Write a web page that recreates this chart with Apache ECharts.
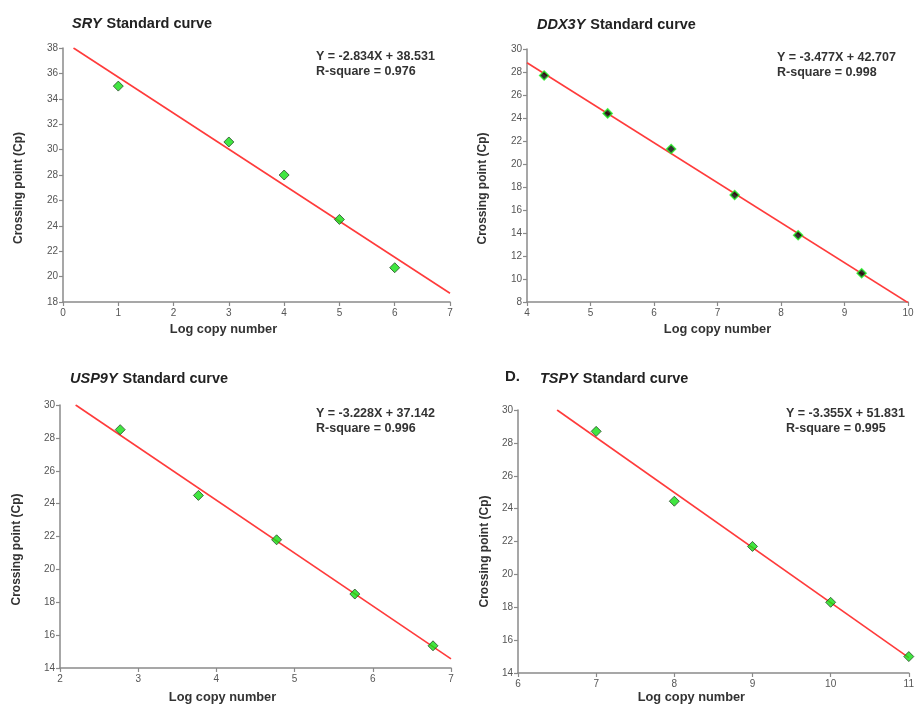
<!DOCTYPE html>
<html><head><meta charset="utf-8">
<script src="https://cdn.jsdelivr.net/npm/echarts@6/dist/echarts.min.js"></script>
<style>html,body{margin:0;padding:0;background:#fff}#c{width:917px;height:705px}</style>
</head><body><div id="c"></div>
<script>
// Panel data
var genes = ['SRY', 'DDX3Y', 'USP9Y', 'TSPY'];
var equations = ['Y = -2.834X + 38.531', 'Y = -3.477X + 42.707', 'Y = -3.228X + 37.142', 'Y = -3.355X + 51.831'];
var rsquares = ['R-square = 0.976', 'R-square = 0.998', 'R-square = 0.996', 'R-square = 0.995'];

var sryX = [1, 3, 4, 5, 6];
var sryY = [35.0, 30.6, 28.0, 24.5, 20.7];
var sryFit = [[0.19, 38.0], [7, 18.69]];

var ddxX = [4.27, 5.27, 6.27, 7.27, 8.27, 9.27];
var ddxY = [27.7, 24.4, 21.3, 17.3, 13.8, 10.5];
var ddxFit = [[4, 28.8], [10, 7.94]];

var uspX = [2.77, 3.77, 4.77, 5.77, 6.77];
var uspY = [28.5, 24.5, 21.8, 18.5, 15.35];
var uspFit = [[2.2, 30.0], [7, 14.55]];

var tspX = [7, 8, 9, 10, 11];
var tspY = [28.7, 24.45, 21.7, 18.3, 15.0];
var tspFit = [[6.5, 30.0], [11, 14.93]];

var xRanges = [[0, 7], [4, 10], [2, 7], [6, 11]];
var yRanges = [[18, 38], [8, 30], [14, 30], [14, 30]];

var xName = 'Log copy number';
var yName = 'Crossing point (Cp)';

var FONT = '"Liberation Sans", Arial, sans-serif';
var grids = [
  {left: 63, top: 48, width: 387, height: 254},
  {left: 527, top: 49, width: 381, height: 253},
  {left: 60, top: 405, width: 391, height: 264},
  {left: 518, top: 410, width: 392, height: 263}
];
var xNameGap = [21, 21, 23, 18];
var xNameShift = [66, 0, 66, 44];
var yNameGap = [38, 38, 37, 27];
var yNameShift = [26, 26, 26, 20];

function pairs(xs, ys) { return xs.map(function (x, i) { return [x, ys[i]]; }); }
var pts = [pairs(sryX, sryY), pairs(ddxX, ddxY), pairs(uspX, uspY), pairs(tspX, tspY)];
var fits = [sryFit, ddxFit, uspFit, tspFit];

var axisLine = {show: true, lineStyle: {color: '#8a8a8a', width: 1.5}};
var axisTick = {show: true, length: 4, lineStyle: {color: '#8a8a8a', width: 1.2}};
var axisLabel = {color: '#555', fontSize: 10, fontFamily: FONT};
var xNameStyle = {color: '#333', fontSize: 12.8, fontWeight: 'bold', fontFamily: FONT};
var yNameStyle = {color: '#333', fontSize: 12, fontWeight: 'bold', fontFamily: FONT};

var xAxes = [], yAxes = [], series = [], titles = [];
for (var i = 0; i < 4; i++) {
  xAxes.push({type: 'value', gridIndex: i, min: xRanges[i][0], max: xRanges[i][1], interval: 1,
    splitLine: {show: false}, axisLine: axisLine, axisTick: axisTick,
    axisLabel: Object.assign({margin: 6}, axisLabel),
    name: xName, nameLocation: 'middle', nameGap: xNameGap[i],
    nameTextStyle: Object.assign({padding: [0, xNameShift[i], 0, 0]}, xNameStyle)});
  yAxes.push({type: 'value', gridIndex: i, min: yRanges[i][0], max: yRanges[i][1], interval: 2,
    splitLine: {show: false}, axisLine: axisLine, axisTick: axisTick,
    axisLabel: Object.assign({margin: 5}, axisLabel),
    name: yName, nameLocation: 'middle', nameGap: yNameGap[i],
    nameTextStyle: Object.assign({padding: [0, yNameShift[i], 0, 0]}, yNameStyle)});
  series.push({type: 'line', xAxisIndex: i, yAxisIndex: i, data: fits[i], showSymbol: false,
    symbol: 'none', lineStyle: {color: '#ff3b3b', width: 1.6}, z: 2, silent: true});
  series.push({type: 'scatter', xAxisIndex: i, yAxisIndex: i, data: pts[i], symbol: 'diamond',
    symbolSize: i === 1 ? 9 : 10,
    itemStyle: i === 1 ? {color: '#000', borderColor: '#22ee22', borderWidth: 1.5}
                       : {color: '#11e011', borderColor: '#2a4a2a', borderWidth: 1}, z: 3});
}

var titlePos = [[72, 15], [537, 16], [70, 370], [540, 370]];
var eqPos = [[316, 49], [777, 50], [316, 406], [786, 406]];
for (var j = 0; j < 4; j++) {
  titles.push({text: '{i|' + genes[j] + '} {b|Standard curve}', left: titlePos[j][0], top: titlePos[j][1], padding: 0,
    textStyle: {rich: {
      i: {fontStyle: 'italic', fontWeight: 'bold', fontSize: 14.5, color: '#222', fontFamily: FONT},
      b: {fontWeight: 'bold', fontSize: 14.5, color: '#222', fontFamily: FONT}}}});
  titles.push({text: equations[j] + '\n' + rsquares[j], left: eqPos[j][0], top: eqPos[j][1], padding: 0,
    textStyle: {fontSize: 12.5, fontWeight: 'bold', color: '#333', fontFamily: FONT, lineHeight: 15}});
}
titles.push({text: 'D.', left: 505, top: 369, padding: 0, textStyle: {fontSize: 15, fontWeight: 'bold', color: '#222', fontFamily: FONT}});

var chart = echarts.init(document.getElementById('c'), null, {renderer: 'canvas'});
chart.setOption({
  backgroundColor: '#fff',
  animation: false,
  title: titles,
  grid: grids,
  xAxis: xAxes,
  yAxis: yAxes,
  series: series
});
</script></body></html>
